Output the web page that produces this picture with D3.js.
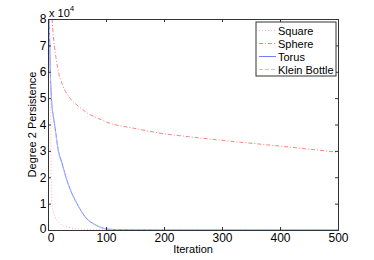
<!DOCTYPE html>
<html>
<head>
<meta charset="utf-8">
<script src="https://cdn.jsdelivr.net/npm/d3@7"></script>
<style>
  body { margin: 0; background: #fff; }
  text { font-family: "Liberation Sans", Arial, sans-serif; }
</style>
</head>
<body>
<div id="chart"></div>
<script>
// values in units of 1e4
const seriesNames = ['Square', 'Sphere', 'Torus', 'Klein Bottle'];
const squareIter = [1, 3, 4.5, 5, 5.5, 6.5, 9, 12, 18, 27, 40, 55, 80, 100, 150, 500];
const squareVal  = [9, 7, 5, 3.5, 2, 1, 0.7, 0.5, 0.3, 0.17, 0.08, 0.04, 0.01, 0.003, 0.001, 0];
const sphereIter = [7, 9, 11, 14, 18, 25, 38, 55, 70, 85, 100, 150, 200, 250, 300, 400, 500];
const sphereVal  = [8.0, 7.4, 7.0, 6.5, 6.0, 5.5, 5.0, 4.65, 4.4, 4.25, 4.1, 3.85, 3.65, 3.52, 3.4, 3.18, 2.95];
const torusIter  = [1, 2, 3, 4, 6, 10, 12, 18, 24, 31, 40, 50, 64, 84, 101, 120, 150, 200, 500];
const torusVal   = [8.3, 8.0, 7.0, 6.0, 5.0, 4.2, 3.9, 3.0, 2.55, 2.0, 1.45, 1.0, 0.5, 0.17, 0.04, 0.015, 0.005, 0.002, 0];
const kleinIter  = [1, 2, 3, 4, 6, 10, 12, 18, 24, 31, 40, 50, 64, 84, 101, 120, 150, 200, 500];
const kleinVal   = [8.3, 7.9, 6.9, 5.9, 4.95, 4.15, 3.85, 2.95, 2.5, 1.97, 1.42, 0.98, 0.49, 0.16, 0.035, 0.012, 0.004, 0.001, 0];
const xTicks = [0, 100, 200, 300, 400, 500];
const yTicks = [0, 1, 2, 3, 4, 5, 6, 7, 8];

const W = 374, H = 260;
const margin = {top: 19, right: 36, bottom: 30, left: 48};

const svg = d3.select('#chart').append('svg')
  .attr('width', W).attr('height', H);

const x = d3.scaleLinear().domain([0, 500]).range([margin.left, W - margin.right]);
const y = d3.scaleLinear().domain([0, 8]).range([H - margin.bottom, margin.top]);

svg.append('defs').append('clipPath').attr('id', 'plotclip')
  .append('rect')
  .attr('x', x(0)).attr('y', y(8))
  .attr('width', x(500) - x(0)).attr('height', y(0) - y(8));

const series = [
  {name: seriesNames[0], it: squareIter, v: squareVal, color: '#ffb0b0', dash: '1,2'},
  {name: seriesNames[1], it: sphereIter, v: sphereVal, color: '#ff8080', dash: '4,2,1,2'},
  {name: seriesNames[2], it: torusIter,  v: torusVal,  color: '#6e80ff', dash: null},
  {name: seriesNames[3], it: kleinIter,  v: kleinVal,  color: '#b8c2ff', dash: '4,2'}
];

const line = d3.line()
  .x(d => x(d[0]))
  .y(d => y(d[1]))
  .curve(d3.curveMonotoneX);

const plot = svg.append('g').attr('clip-path', 'url(#plotclip)');
series.forEach(s => {
  plot.append('path')
    .datum(s.it.map((t, i) => [t, s.v[i]]))
    .attr('d', line)
    .attr('fill', 'none')
    .attr('stroke', s.color)
    .attr('stroke-width', 1)
    .attr('stroke-dasharray', s.dash);
});

// box and axes (MATLAB style, ticks inside)
const axisColor = '#333';
const xAxisG = svg.append('g')
  .attr('transform', `translate(0,${y(0)})`)
  .call(d3.axisBottom(x).tickValues(xTicks).tickSize(-3).tickPadding(3))
  .call(g => g.select('.domain').attr('stroke', axisColor));
svg.append('g')
  .attr('transform', `translate(0,${y(8)})`)
  .call(d3.axisTop(x).tickValues(xTicks).tickSize(-3).tickFormat(''))
  .call(g => g.select('.domain').attr('stroke', axisColor));
const yAxisG = svg.append('g')
  .attr('transform', `translate(${x(0)},0)`)
  .call(d3.axisLeft(y).tickValues(yTicks).tickSize(-3).tickPadding(1.5))
  .call(g => g.select('.domain').attr('stroke', axisColor));
svg.append('g')
  .attr('transform', `translate(${x(500)},0)`)
  .call(d3.axisRight(y).tickValues(yTicks).tickSize(-3).tickFormat(''))
  .call(g => g.select('.domain').attr('stroke', axisColor));

svg.selectAll('.tick line').attr('stroke', axisColor);
svg.selectAll('.tick text')
  .attr('fill', '#000')
  .style('font-size', '12px')
  .style('font-family', '"Liberation Sans", Arial, sans-serif');

// keep the two corner zeros apart
xAxisG.selectAll('.tick text').filter(d => d === 0).attr('dx', 2.5);
yAxisG.selectAll('.tick text').filter(d => d === 0).attr('dy', '0.2em');

// exponent label
const expo = svg.append('text')
  .attr('x', x(0) + 1).attr('y', y(8) - 2)
  .style('font-size', '11px');
expo.append('tspan').text('x 10');
expo.append('tspan').attr('dy', -6).style('font-size', '8px').text('4');

// axis titles
svg.append('text')
  .attr('x', (x(0) + x(500)) / 2).attr('y', 253)
  .attr('text-anchor', 'middle')
  .style('font-size', '11px')
  .text('Iteration');
svg.append('text')
  .attr('transform', `translate(36,${(y(0) + y(8)) / 2}) rotate(-90)`)
  .attr('text-anchor', 'middle')
  .style('font-size', '11px')
  .text('Degree 2 Persistence');

// legend
const lg = svg.append('g').attr('transform', 'translate(256,22)');
lg.append('rect')
  .attr('width', 80).attr('height', 54)
  .attr('fill', '#fff').attr('stroke', axisColor);
series.forEach((s, i) => {
  const yy = 8.5 + i * 13;
  lg.append('line')
    .attr('x1', 3).attr('x2', 20).attr('y1', yy).attr('y2', yy)
    .attr('stroke', s.color)
    .attr('stroke-dasharray', s.dash);
  lg.append('text')
    .attr('x', 22).attr('y', yy + 4)
    .style('font-size', '11px')
    .text(s.name);
});
</script>
</body>
</html>
